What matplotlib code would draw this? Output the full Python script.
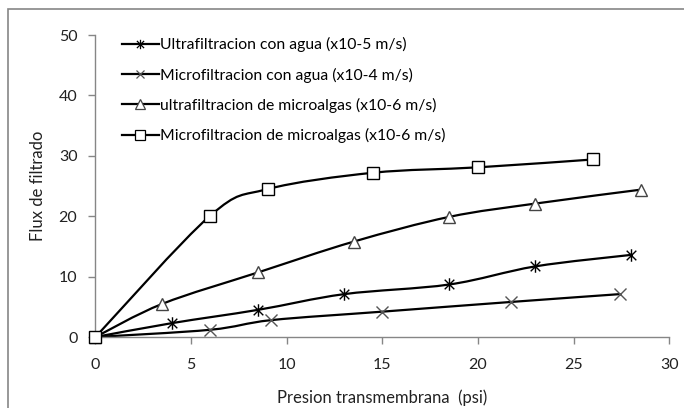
import matplotlib
matplotlib.use("Agg")
import matplotlib.pyplot as plt
import numpy as np
from matplotlib.path import Path
from matplotlib.patches import PathPatch, Rectangle

plt.rcParams["font.family"] = ["Lato", "DejaVu Sans"]

# %% Datos

uf_agua_x = [0, 4, 8.5, 13, 18.5, 23, 28]
uf_agua_y = [0, 2.3, 4.5, 7.1, 8.7, 11.7, 13.6]

mf_agua_x = [0, 6, 9.2, 15, 21.7, 27.4]
mf_agua_y = [0, 1.2, 2.8, 4.2, 5.8, 7.1]

uf_algas_x = [0, 3.5, 8.5, 13.5, 18.5, 23, 28.5]
uf_algas_y = [0, 5.5, 10.7, 15.8, 19.9, 22.1, 24.4]

mf_algas_x = [0, 6, 9, 14.5, 20, 26]
mf_algas_y = [0, 20.1, 24.5, 27.2, 28.1, 29.4]

etiquetas = ["Ultrafiltracion con agua (x10-5 m/s)",
             "Microfiltracion con agua (x10-4 m/s)",
             "ultrafiltracion de microalgas (x10-6 m/s)",
             "Microfiltracion de microalgas (x10-6 m/s)"]


# %% Funciones

def curva_suave(x, y):
    # Linea suavizada tipo Excel: segmentos Bezier cubicos entre los puntos
    x = np.asarray(x, float)
    y = np.asarray(y, float)
    n = len(x)
    verts = [(x[0], y[0])]
    codes = [Path.MOVETO]
    for i in range(n - 1):
        x0, y0 = (x[i - 1], y[i - 1]) if i > 0 else (x[i], y[i])
        x3, y3 = (x[i + 2], y[i + 2]) if i + 2 < n else (x[i + 1], y[i + 1])
        c1 = (x[i] + (x[i + 1] - x0) / 6, y[i] + (y[i + 1] - y0) / 6)
        c2 = (x[i + 1] - (x3 - x[i]) / 6, y[i + 1] - (y3 - y[i]) / 6)
        verts += [c1, c2, (x[i + 1], y[i + 1])]
        codes += [Path.CURVE4] * 3
    return Path(verts, codes)


# marcador asterisco (x con linea vertical)
asterisco = Path([(-1, -1), (1, 1), (-1, 1), (1, -1), (0, -1.3), (0, 1.3)],
                 [Path.MOVETO, Path.LINETO, Path.MOVETO, Path.LINETO, Path.MOVETO, Path.LINETO])

# %% Grafico

fig = plt.figure(figsize=(6.84, 4.08), dpi=100)
ax = fig.add_axes([0.1396, 0.174, 0.839, 0.740])

series = [
    (uf_agua_x, uf_agua_y, asterisco, 9, "black"),
    (mf_agua_x, mf_agua_y, "x", 8, "#555555"),
    (uf_algas_x, uf_algas_y, "^", 9, "#444444"),
    (mf_algas_x, mf_algas_y, "s", 9, "black"),
]

for (x, y, m, ms, c), lab in zip(series, etiquetas):
    ax.add_patch(PathPatch(curva_suave(x, y), fill=False, lw=1.6, ec="black", zorder=2))
    ax.plot(x, y, ls="none", marker=m, ms=ms, mfc="white", mec=c, mew=1.0, zorder=3)
    # entrada de la leyenda
    ax.plot([], [], ls="-", color="black", lw=1.6, marker=m, ms=ms * 0.75,
            mfc="white", mec=c, mew=0.9, label=lab)

ax.set_xlim(0, 30)
ax.set_ylim(0, 50)
ax.set_xticks(np.arange(0, 31, 5))
ax.set_yticks(np.arange(0, 51, 10))
for a in ax.patches + ax.lines:
    a.set_clip_on(False)

for s in ["top", "right"]:
    ax.spines[s].set_visible(False)
for s in ["left", "bottom"]:
    ax.spines[s].set_color("#868686")
    ax.spines[s].set_linewidth(1.0)
ax.tick_params(axis="both", colors="#868686", labelcolor="#222222", labelsize=11.5,
               length=5, width=1.0, direction="out")
ax.tick_params(axis="x", pad=10)
ax.tick_params(axis="y", pad=8)

ax.set_xlabel("Presion transmembrana  (psi)", fontsize=12, color="#222222", labelpad=13)
ax.set_ylabel("Flux de filtrado", fontsize=12, color="#222222", labelpad=9)

ax.legend(loc="upper left", bbox_to_anchor=(0.046, 0.993), frameon=False, fontsize=11.3,
          handlelength=2.35, handletextpad=0.1, labelspacing=0.97, borderaxespad=0, borderpad=0)

# borde del area del grafico
fig.patches.append(Rectangle((8 / 684, -0.05), 1.2, 1 - 9 / 408 + 0.05, transform=fig.transFigure,
                             fill=False, ec="#868686", lw=1.2))

fig.savefig("out.png", dpi=100)
